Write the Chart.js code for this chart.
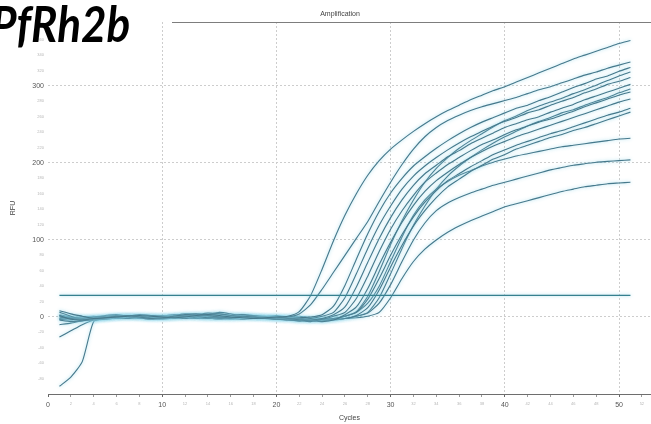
<!DOCTYPE html>
<html>
<head>
<meta charset="utf-8">
<script src="https://cdn.jsdelivr.net/npm/chart.js@4.4.1/dist/chart.umd.min.js"></script>
<style>
  html, body { margin: 0; padding: 0; background: #ffffff; overflow: hidden; }
  #wrap { position: relative; width: 651px; height: 424px; }
  #gene {
    position: absolute; left: -9px; top: -6px;
    font-family: Lato, "Open Sans", sans-serif; font-weight: 700; font-style: italic;
    font-size: 50px; line-height: 58px; color: #000;
    transform: scaleX(0.88); transform-origin: left top; white-space: nowrap;
  }
</style>
</head>
<body>
<div id="wrap">
  <canvas id="chart" width="651" height="424"></canvas>
  <div id="gene">PfRh2b</div>
</div>
<script>
// Cycle numbers and RFU readings per well
const cycles = [1,2,3,4,5,6,7,8,9,10,11,12,13,14,15,16,17,18,19,20,21,22,23,24,25,26,27,28,29,30,31,32,33,34,35,36,37,38,39,40,41,42,43,44,45,46,47,48,49,50,51];
const threshold = 28;

const sample1 = [8,4,1,-2,-1,0,1,2,1,0,-1,0,2,3,2,0,-1,-2,-1,0,
  1,7,28,62,99,132,160,184,203,218,230,241,251,260,268,275,282,288,294,299,305,311,317,323,329,335,340,345,350,355,359];
const sample2 = [2,-3,-4,-2,-1,1,2,0,-2,-1,1,3,4,2,0,-1,1,0,-2,-1,
  0,4,16,36,58,80,102,124,150,175,198,218,234,246,255,262,268,273,277,281,285,290,295,299,304,309,314,318,323,327,331];
const sample3 = [-4,-6,-5,-3,-1,0,2,1,-1,-2,0,1,3,5,4,2,0,-1,-2,-3,-2,-1,
  0,3,14,41,75,108,137,161,180,196,208,219,229,238,246,253,259,265,271,275,281,286,292,298,303,309,313,319,324];
const sample4 = [0,-2,-3,-1,1,2,0,-1,-3,-2,0,2,1,-1,0,2,3,1,-1,-3,-4,-3,-2,
  1,6,25,56,89,119,144,166,183,196,207,217,226,234,241,248,254,259,265,269,275,280,285,291,296,302,306,311];
const sample5 = [-3,-4,-2,0,1,-1,-2,0,2,1,-1,-2,0,3,6,4,1,-1,0,-2,-3,-5,-4,-2,
  3,13,39,71,102,129,152,171,186,197,208,216,225,232,239,246,251,256,260,266,271,276,282,287,292,297,302];
const sample6 = [6,1,-3,-4,-2,0,1,3,2,0,-1,1,2,0,-2,-1,1,2,0,-2,-4,-5,-6,-3,
  1,6,24,53,85,114,138,158,175,187,198,207,216,224,230,237,243,248,253,257,262,267,273,278,283,288,292];
const sample7 = [-2,-1,0,-2,-3,-1,1,0,-2,0,2,4,3,1,-1,-2,0,1,-1,-3,-2,-4,-5,-6,-4,
  3,13,37,68,97,123,145,163,177,188,198,207,215,222,228,234,239,244,249,254,259,264,269,274,279,283];
const sample8 = [1,-1,-2,0,2,3,1,-1,-2,-3,-1,1,0,-2,-1,1,3,2,0,-2,-3,-2,-4,-3,-2,
  1,6,23,50,80,107,130,149,164,177,186,195,203,211,217,223,228,233,238,242,247,252,257,262,266,271];
const sample9 = [-10,-8,-5,-3,-2,0,1,-1,0,2,1,-1,-2,0,1,-1,-3,-2,0,1,-1,-3,-4,-5,-3,-2,
  2,12,35,65,93,118,138,155,169,179,189,197,205,211,218,223,228,233,237,242,246,251,256,261,266];
const sample10 = [3,0,-2,-1,0,1,-1,-2,0,1,3,2,0,-1,-3,-2,0,2,1,-1,-2,-4,-3,-5,-3,
  1,7,27,59,94,125,152,175,193,207,219,229,238,247,255,261,268,274,279,284,290,295,301,307,313,318];
const sample11 = [-3,-2,0,1,-1,-2,-1,1,2,0,-2,-1,1,2,4,2,0,-1,-2,0,-1,-3,-4,-3,-2,
  1,6,18,40,72,104,132,152,166,176,184,190,196,201,205,209,212,215,218,221,223,225,227,229,231,232];
const sample12 = [-26,-18,-10,-4,-2,0,1,0,-1,1,2,0,-1,-2,0,2,1,-1,0,1,-1,-2,-3,-2,-4,-2,
  1,5,18,42,72,100,122,138,148,155,161,166,171,175,179,183,187,191,194,197,199,201,202,203,204];
const sample13 = [-90,-78,-58,-6,-3,-1,0,2,1,-1,0,1,-1,-2,0,1,2,0,-1,-2,0,1,-1,-2,-3,-2,-1,
  1,6,25,50,72,88,100,110,118,125,131,137,143,147,151,155,159,163,166,169,171,173,174,175];
const sample14 = [2,0,-1,-3,-2,0,2,1,-1,-2,0,1,2,1,-1,-3,-2,0,1,2,0,-2,-3,-4,-3,-2,
  1,6,25,56,89,119,144,166,183,196,207,217,226,234,241,248,254,259,265,269,275,280,285,291,296];

const samples = [sample1, sample2, sample3, sample4, sample5, sample6, sample7,
                 sample8, sample9, sample10, sample11, sample12, sample13, sample14];

const xMajorLabels = [0, 10, 20, 30, 40, 50];
const yMajorLabels = [0, 100, 200, 300];

const curveColor = '#46798c';
const axisFont = 'Liberation Sans, Arial, sans-serif';

const toPoints = vals => vals.map((v, i) => ({ x: cycles[i], y: v }));

const datasets = [
  {
    label: 'Threshold',
    data: [{ x: cycles[0], y: threshold }, { x: cycles[cycles.length - 1], y: threshold }],
    borderColor: '#35808f', borderWidth: 1.3, pointRadius: 0, tension: 0
  }
].concat(samples.map((s, i) => ({
  label: 'Well ' + (i + 1),
  data: toPoints(s),
  borderColor: curveColor, borderWidth: 1.1, pointRadius: 0, tension: 0.2
})));

// soft halo around the traces
const halo = {
  id: 'halo',
  beforeDatasetsDraw(chart) {
    const c = chart.ctx;
    c.save();
    c.shadowColor = 'rgba(140,212,232,0.9)';
    c.shadowBlur = 3.5;
  },
  afterDatasetsDraw(chart) { chart.ctx.restore(); }
};

// frame line across the top and the plot heading
const frame = {
  id: 'frame',
  afterDraw(chart) {
    const c = chart.ctx, a = chart.chartArea;
    c.save();
    c.strokeStyle = '#7d7d7d';
    c.lineWidth = 1;
    c.beginPath();
    c.moveTo(172, a.top + 0.5);
    c.lineTo(a.right, a.top + 0.5);
    c.stroke();
    c.fillStyle = '#444';
    c.font = '7px ' + axisFont;
    c.textAlign = 'center';
    c.textBaseline = 'middle';
    c.fillText('Amplification', 340, 14);
    c.restore();
  }
};

const tickVal = ctx => (ctx && ctx.tick) ? ctx.tick.value : null;
const isMajorX = ctx => xMajorLabels.includes(tickVal(ctx));
const isMajorY = ctx => yMajorLabels.includes(tickVal(ctx));

new Chart(document.getElementById('chart'), {
  type: 'line',
  data: { datasets },
  plugins: [halo, frame],
  options: {
    responsive: false,
    animation: false,
    devicePixelRatio: 1,
    layout: { padding: { top: 22, left: 0, right: 0, bottom: 0 } },
    plugins: { legend: { display: false }, tooltip: { enabled: false }, title: { display: false } },
    scales: {
      x: {
        type: 'linear', min: 0, max: 52.8,
        afterFit: s => { s.height = 30; },
        ticks: {
          stepSize: 2, includeBounds: false, autoSkip: false, maxRotation: 0, padding: 4,
          callback: v => String(v),
          font: ctx => ({ family: axisFont, size: (tickVal(ctx) === null || isMajorX(ctx)) ? 7 : 4 }),
          color: ctx => (tickVal(ctx) === null || isMajorX(ctx)) ? '#555' : '#b5b5b5'
        },
        grid: {
          color: ctx => (isMajorX(ctx) && tickVal(ctx) !== 0) ? '#cdcdcd' : 'rgba(0,0,0,0)',
          lineWidth: 1, drawTicks: true, tickLength: 3,
          tickColor: ctx => isMajorX(ctx) ? '#666' : '#9a9a9a'
        },
        border: { display: true, color: '#6e6e6e', width: 1, dash: [2, 2] },
        title: { display: true, text: 'Cycles', color: '#444', font: { family: axisFont, size: 7 }, padding: { top: 0, bottom: 2 } }
      },
      y: {
        type: 'linear', min: -100, max: 383,
        afterFit: s => { s.width = 48; },
        ticks: {
          stepSize: 20, includeBounds: false, autoSkip: false, padding: 4,
          callback: v => (v === -100 ? '' : String(v)),
          font: ctx => ({ family: axisFont, size: (tickVal(ctx) === null || isMajorY(ctx)) ? 7 : 4 }),
          color: ctx => (tickVal(ctx) === null || isMajorY(ctx)) ? '#555' : '#b5b5b5'
        },
        grid: {
          color: ctx => isMajorY(ctx) ? '#cdcdcd' : 'rgba(0,0,0,0)',
          lineWidth: 1, drawTicks: false
        },
        border: { display: false, dash: [2, 2] },
        title: { display: true, text: 'RFU', color: '#444', font: { family: axisFont, size: 7 }, padding: { top: 9, bottom: 0 } }
      }
    }
  }
});
</script>
</body>
</html>
